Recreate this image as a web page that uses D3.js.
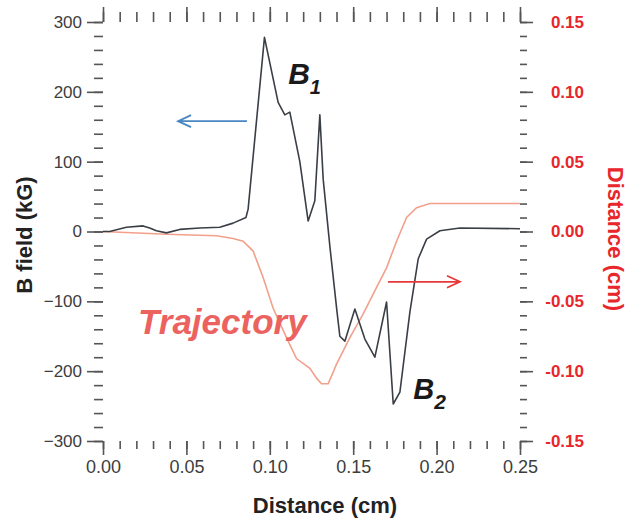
<!DOCTYPE html>
<html>
<head>
<meta charset="utf8">
<title>B field and trajectory</title>
<style>
  body { margin: 0; background: #fff; }
  svg { font-family: "Liberation Sans", Arial, Helvetica, sans-serif; }
  .tick line { stroke: #555; stroke-width: 1.6px; }
  .domain { display: none; }
</style>
</head>
<body>
<svg width="637" height="522"></svg>
<script src="https://d3js.org/d3.v7.min.js"></script>
<script>
// B field along the path (kG)
var bX = [0.000, 0.004, 0.014, 0.024, 0.028, 0.032, 0.038, 0.046, 0.058, 0.070, 0.078, 0.0857, 0.087,
          0.0968, 0.105, 0.109, 0.112, 0.118, 0.123, 0.127, 0.130, 0.132, 0.136, 0.1403, 0.142, 0.145,
          0.151, 0.157, 0.163, 0.170, 0.174, 0.178, 0.184, 0.189, 0.194, 0.202, 0.214, 0.250];
var bField = [0, 0, 6, 8, 5, 1, -2, 3, 5, 6, 12, 20, 32,
              278, 185, 167, 171, 100, 15, 44, 167, 75, -21, -115, -150, -157,
              -111, -154, -180, -101, -247, -230, -115, -39, -11, 1, 5, 4];

// trajectory displacement (cm), right axis
var trajX = [0.000, 0.038, 0.068, 0.078, 0.084, 0.090, 0.096, 0.102, 0.110, 0.116, 0.124, 0.128,
             0.131, 0.135, 0.140, 0.148, 0.156, 0.164, 0.170, 0.176, 0.182, 0.188, 0.196, 0.216, 0.250];
var trajD = [0.000, -0.002, -0.003, -0.005, -0.007, -0.014, -0.033, -0.055, -0.076, -0.091, -0.098, -0.105,
             -0.109, -0.109, -0.095, -0.076, -0.059, -0.040, -0.026, -0.007, 0.010, 0.017, 0.020, 0.020, 0.020];

var xMajor = [0, 0.05, 0.10, 0.15, 0.20, 0.25];
var xLabels = ["0.00", "0.05", "0.10", "0.15", "0.20", "0.25"];
var leftMajor = [-300, -200, -100, 0, 100, 200, 300];
var leftLabels = ["\u2212300", "\u2212200", "\u2212100", "0", "100", "200", "300"];
var rightMajor = [-0.15, -0.10, -0.05, 0, 0.05, 0.10, 0.15];
var rightLabels = ["-0.15", "-0.10", "-0.05", "0.00", "0.05", "0.10", "0.15"];

var svg = d3.select("svg");
var plotL = 103, plotR = 520, plotT = 22, plotB = 441;

var x = d3.scaleLinear().domain([0, 0.25]).range([plotL, plotR]);
var yL = d3.scaleLinear().domain([-300, 300]).range([plotB, plotT]);
var yR = d3.scaleLinear().domain([-0.15, 0.15]).range([plotB, plotT]);

// minor ticks first, then the labelled major ones
function minor(axis, g, n) {
    g.call(axis.ticks(n).tickFormat(""));
}

var gB = svg.append("g").attr("transform", "translate(0," + plotB + ")");
minor(d3.axisBottom(x).tickSize(8), gB.append("g"), 25);
gB.append("g").call(d3.axisBottom(x).tickValues(xMajor).tickSize(14).tickPadding(5)
        .tickFormat(function(d, i) { return xLabels[i]; }))
    .selectAll("text").attr("font-size", 18).attr("fill", "#3d3d3d");

var gT = svg.append("g").attr("transform", "translate(0," + plotT + ")");
minor(d3.axisTop(x).tickSize(10), gT.append("g"), 25);
gT.append("g").call(d3.axisTop(x).tickValues(xMajor).tickSize(15).tickFormat(""));

var gL = svg.append("g").attr("transform", "translate(" + plotL + ",0)");
minor(d3.axisLeft(yL).tickSize(9), gL.append("g"), 30);
gL.append("g").call(d3.axisLeft(yL).tickValues(leftMajor).tickSize(16).tickPadding(5)
        .tickFormat(function(d, i) { return leftLabels[i]; }))
    .selectAll("text").attr("font-size", 17).attr("fill", "#3d3d3d");

var gR = svg.append("g").attr("transform", "translate(" + plotR + ",0)");
minor(d3.axisRight(yR).tickSize(7), gR.append("g"), 30);
gR.append("g").call(d3.axisRight(yR).tickValues(rightMajor).tickSize(13)
        .tickFormat(function(d, i) { return rightLabels[i]; }))
    .selectAll("text").attr("font-size", 17).attr("font-weight", "bold").attr("fill", "#e8262b")
    .attr("text-anchor", "end").attr("x", 64);

svg.selectAll("g").attr("font-family", null);
svg.selectAll(".tick line").attr("stroke", "#555");

// curves
var trajLine = d3.line().x(function(d, i) { return x(trajX[i]); }).y(function(d) { return yR(d); });
svg.append("path").datum(trajD).attr("d", trajLine)
    .attr("fill", "none").attr("stroke", "#f2a08c").attr("stroke-width", 1.6);

var bLine = d3.line().x(function(d, i) { return x(bX[i]); }).y(function(d) { return yL(d); });
svg.append("path").datum(bField).attr("d", bLine)
    .attr("fill", "none").attr("stroke", "#3a3f46").attr("stroke-width", 1.6)
    .attr("stroke-linejoin", "round");

// arrows pointing to the relevant axis
function arrow(x0, x1, y, color) {
    var dir = x1 > x0 ? -1 : 1;
    svg.append("path")
        .attr("d", "M" + x0 + "," + y + "L" + x1 + "," + y +
                   "M" + (x1 + dir * 13) + "," + (y - 6) + "L" + x1 + "," + y + "L" + (x1 + dir * 13) + "," + (y + 6))
        .attr("fill", "none").attr("stroke", color).attr("stroke-width", 1.8);
}
arrow(x(0.0863), x(0.045), yL(158), "#4a86c2");
arrow(x(0.1709), x(0.214), yR(-0.036), "#e8393a");

// annotations
var b1 = svg.append("text").attr("x", x(0.111)).attr("y", yL(211))
    .attr("font-size", 30).attr("font-weight", "bold").attr("font-style", "italic").attr("fill", "#1a1a1a");
b1.append("tspan").text("B");
b1.append("tspan").attr("font-size", 20).attr("dy", 10).text("1");

var b2 = svg.append("text").attr("x", x(0.186)).attr("y", yL(-240))
    .attr("font-size", 29).attr("font-weight", "bold").attr("font-style", "italic").attr("fill", "#1a1a1a");
b2.append("tspan").text("B");
b2.append("tspan").attr("font-size", 21).attr("dy", 10).text("2");

svg.append("text").attr("x", x(0.021)).attr("y", yL(-147))
    .attr("font-size", 35).attr("font-weight", "bold").attr("font-style", "italic")
    .attr("fill", "#ec625e").text("Trajectory");

// axis titles
svg.append("text").attr("x", 325).attr("y", 513).attr("text-anchor", "middle")
    .attr("font-size", 22).attr("font-weight", "bold").attr("fill", "#222").text("Distance (cm)");

svg.append("text").attr("transform", "translate(32,235) rotate(-90)").attr("text-anchor", "middle")
    .attr("font-size", 22).attr("font-weight", "bold").attr("fill", "#222").text("B field (kG)");

svg.append("text").attr("transform", "translate(608,239) rotate(90)").attr("text-anchor", "middle")
    .attr("font-size", 22).attr("font-weight", "bold").attr("fill", "#e8262b").text("Distance (cm)");
</script>
</body>
</html>
